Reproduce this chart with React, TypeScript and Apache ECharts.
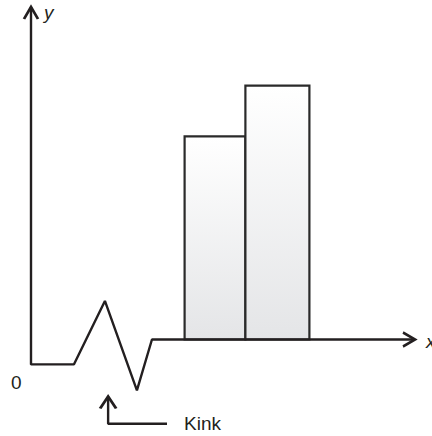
import React, { useEffect, useRef } from "react";
import * as echarts from "echarts";

// Main outline: y axis, broken baseline with kink, then x axis (x units, y units)
const axisPathX = [0, 0, 1.34, 2.31, 3.31, 3.78, 12];
const axisPathY = [6.55, -0.49, -0.49, 0.76, -1.0, 0, 0];

// Bars: start, end, height
const barStarts = [4.8, 6.7];
const barEnds = [6.7, 8.7];
const barValues = [4, 5];

// Kink pointer annotation
const pointerX = [2.41, 2.41, 4.25];
const pointerY = [-1.12, -1.66, -1.66];

const labels = { y: "y", x: "x", zero: "0", kink: "Kink" };

const INK = "#231f20";
const ARROW_UP = "path://M0,12 L7,0 L14,12";
const ARROW_RIGHT = "path://M0,0 L12,7 L0,14";

export default function App() {
  const ref = useRef<HTMLDivElement>(null);

  useEffect(() => {
    if (!ref.current) return;
    const chart = echarts.init(ref.current, undefined, { renderer: "svg" });

    const symStyle = { color: "transparent", borderColor: INK, borderWidth: 2.6 };

    const mainData = axisPathX.map((x, i) => {
      const item: any = { value: [x, axisPathY[i]] };
      if (i === 0) {
        item.symbol = ARROW_UP;
        item.symbolSize = [14, 12];
        item.symbolOffset = [0, 6];
        item.itemStyle = symStyle;
      } else if (i === axisPathX.length - 1) {
        item.symbol = ARROW_RIGHT;
        item.symbolSize = [12, 14];
        item.symbolOffset = [-6, 0];
        item.itemStyle = symStyle;
      } else {
        item.symbol = "none";
      }
      return item;
    });

    const pointerData = pointerX.map((x, i) => {
      const item: any = { value: [x, pointerY[i]] };
      if (i === 0) {
        item.symbol = ARROW_UP;
        item.symbolSize = [16, 12];
        item.symbolOffset = [0, 6];
        item.itemStyle = symStyle;
      } else {
        item.symbol = "none";
      }
      return item;
    });

    const barData = barStarts.map((s, i) => [s, barEnds[i], barValues[i]]);

    chart.setOption({
      animation: false,
      grid: { left: 31, top: 4.4, width: 384, height: 51 * 8.5, containLabel: false },
      xAxis: { type: "value", min: 0, max: 12, show: false },
      yAxis: { type: "value", min: -1.9, max: 6.6, show: false },
      series: [
        {
          type: "custom",
          z: 1,
          data: barData,
          renderItem: (params: any, api: any) => {
            const p0 = api.coord([api.value(0), api.value(2)]);
            const p1 = api.coord([api.value(1), 0]);
            return {
              type: "rect",
              shape: { x: p0[0], y: p0[1], width: p1[0] - p0[0], height: p1[1] - p0[1] },
              style: {
                fill: new echarts.graphic.LinearGradient(0, 0, 0, 1, [
                  { offset: 0, color: "#ffffff" },
                  { offset: 1, color: "#e4e5e7" },
                ]),
                stroke: "#2a2a2a",
                lineWidth: 2.2,
              },
            };
          },
        },
        {
          type: "line",
          z: 3,
          data: mainData,
          showSymbol: true,
          lineStyle: { color: INK, width: 2.4 },
          itemStyle: symStyle,
        },
        {
          type: "line",
          z: 3,
          data: pointerData,
          showSymbol: true,
          lineStyle: { color: INK, width: 2.4 },
          itemStyle: symStyle,
        },
      ],
      graphic: [
        {
          type: "text",
          x: 44,
          y: 12,
          style: { text: labels.y, font: "italic 19px 'Liberation Sans'", fill: INK, verticalAlign: "middle" },
        },
        {
          type: "text",
          x: 426,
          y: 341,
          style: { text: labels.x, font: "italic 19px 'Liberation Sans'", fill: INK, verticalAlign: "middle" },
        },
        {
          type: "text",
          x: 11,
          y: 382,
          style: { text: labels.zero, font: "19px 'Liberation Sans'", fill: INK, verticalAlign: "middle" },
        },
        {
          type: "text",
          x: 184,
          y: 423,
          style: { text: labels.kink, font: "19px 'Liberation Sans'", fill: INK, verticalAlign: "middle" },
        },
      ],
    });

    return () => chart.dispose();
  }, []);

  return <div ref={ref} style={{ width: 432, height: 436, position: "absolute", left: 0, top: 0 }} />;
}
